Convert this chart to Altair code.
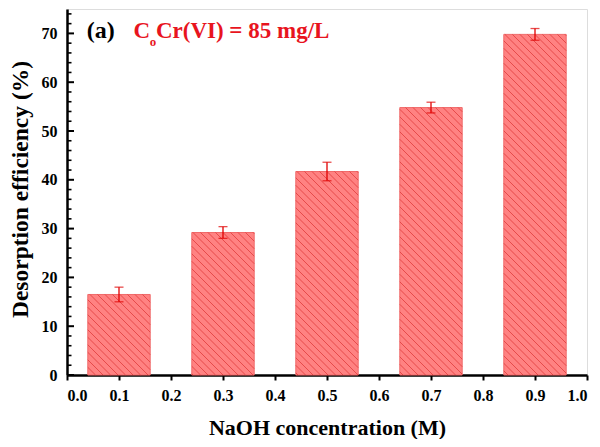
import altair as alt
import pandas as pd
import numpy as np

# ---- data ----
conc = [0.1, 0.3, 0.5, 0.7, 0.9]
eff = [16.5, 29.2, 41.7, 54.8, 69.8]
err = [1.5, 1.2, 1.9, 1.1, 1.2]
x_ticks = [0.0, 0.1, 0.2, 0.3, 0.4, 0.5, 0.6, 0.7, 0.8, 0.9, 1.0]
y_ticks = [0, 10, 20, 30, 40, 50, 60, 70]
y_minor = [v for v in range(2, 75, 2) if v % 10 != 0]

W, H = 520, 366
XMAX, YMAX = 1.0, 75.0
HALF = 0.06  # half bar width in data units

df = pd.DataFrame({"conc": conc, "eff": eff, "err": err})

# ---- hatch segments ("\\" pattern) derived from the bar values ----
spacing = 7.5
segs = []
for i, (c, v) in enumerate(zip(conc, eff)):
    px0, px1 = (c - HALF) / XMAX * W, (c + HALF) / XMAX * W
    yt, yb = (YMAX - v) / YMAX * H, H
    kmin = np.floor((yt - px1) / spacing) * spacing
    k = kmin
    while k <= yb - px0:
        s = max(px0, yt - k)
        e = min(px1, yb - k)
        if e - s > 0.5:
            segs.append({
                "x": s / W * XMAX, "y": YMAX - (s + k) / H * YMAX,
                "x2": e / W * XMAX, "y2": YMAX - (e + k) / H * YMAX,
            })
        k += spacing
hatch_df = pd.DataFrame(segs)

FONT = "Liberation Serif"
xs = alt.Scale(domain=[0, XMAX], nice=False, zero=False)
ys = alt.Scale(domain=[0, YMAX], nice=False)

base = alt.Chart(df)

bars = base.transform_calculate(
    x0=f"datum.conc - {HALF}", x1=f"datum.conc + {HALF}", zero="0"
).mark_rect(fill="#FF8282", stroke="#F06A6A", strokeWidth=1).encode(
    x=alt.X("x0:Q", scale=xs, axis=alt.Axis(
        values=x_ticks, format=".1f", title="NaOH concentration (M)",
        tickSize=5, tickWidth=2, tickColor="black", labelPadding=7,
        domainColor="black", domainWidth=2.5,
        labelFont=FONT, titleFont=FONT, labelColor="black", titleColor="black",
        titleY=59, titleBaseline="alphabetic", titleFontSize=22,
        labelFontSize=16, labelFontWeight="bold", titleFontWeight="bold",
        grid=False)),
    x2="x1:Q",
    y=alt.Y("zero:Q", scale=ys, axis=alt.Axis(
        values=y_ticks, title="Desorption efficiency (%)",
        tickSize=0, labelPadding=10, domainColor="black", domainWidth=2.5,
        labelFont=FONT, titleFont=FONT, labelColor="black", titleColor="black",
        titleX=-47, titleY=180, titleAlign="center", titleBaseline="middle",
        titleFontSize=23.5, labelFontSize=16, labelFontWeight="bold",
        titleFontWeight="bold", grid=False)),
    y2="eff:Q",
)

hatch = alt.Chart(hatch_df).mark_rule(color="#DC3434", strokeWidth=0.9, opacity=0.8).encode(
    x=alt.X("x:Q", scale=xs), y=alt.Y("y:Q", scale=ys),
    x2="x2:Q", y2="y2:Q",
)

err_rule = base.transform_calculate(
    lo="datum.eff - datum.err", hi="datum.eff + datum.err"
).mark_rule(color="#E00000", strokeWidth=1.3).encode(
    x=alt.X("conc:Q", scale=xs), y=alt.Y("lo:Q", scale=ys), y2="hi:Q"
)
err_cap_hi = base.transform_calculate(
    hi="datum.eff + datum.err"
).mark_tick(color="#E00000", orient="horizontal", size=9, thickness=1.3).encode(
    x=alt.X("conc:Q", scale=xs), y=alt.Y("hi:Q", scale=ys)
)
err_cap_lo = base.transform_calculate(
    lo="datum.eff - datum.err"
).mark_tick(color="#E00000", orient="horizontal", size=9, thickness=1.3).encode(
    x=alt.X("conc:Q", scale=xs), y=alt.Y("lo:Q", scale=ys)
)

major_ticks = alt.Chart(pd.DataFrame({"t": y_ticks})).mark_rule(
    color="black", strokeWidth=2).encode(
    y=alt.Y("t:Q", scale=ys), x=alt.value(0), x2=alt.value(7))
minor_ticks = alt.Chart(pd.DataFrame({"t": y_minor})).mark_rule(
    color="black", strokeWidth=1.6).encode(
    y=alt.Y("t:Q", scale=ys), x=alt.value(0), x2=alt.value(4.5))

label_a = alt.Chart().mark_text(
    text="(a)", font=FONT, fontSize=24, fontWeight="bold", color="black",
    align="left", baseline="alphabetic").encode(
    x=alt.datum(0.038, scale=xs), y=alt.datum(69.1, scale=ys))
label_c = alt.Chart().mark_text(
    text="C", font=FONT, fontSize=23, fontWeight="bold", color="#E8141E",
    align="left", baseline="alphabetic").encode(
    x=alt.datum(0.128, scale=xs), y=alt.datum(69.0, scale=ys))
label_o = alt.Chart().mark_text(
    text="o", font=FONT, fontSize=13, fontWeight="bold", color="#E8141E",
    align="left", baseline="alphabetic").encode(
    x=alt.datum(0.159, scale=xs), y=alt.datum(67.4, scale=ys))
label_rest = alt.Chart().mark_text(
    text="Cr(VI) = 85 mg/L", font=FONT, fontSize=23, fontWeight="bold",
    color="#E8141E", align="left", baseline="alphabetic").encode(
    x=alt.datum(0.171, scale=xs), y=alt.datum(69.0, scale=ys))

chart = alt.layer(
    bars, hatch, err_rule, err_cap_hi, err_cap_lo, major_ticks, minor_ticks,
    label_a, label_c, label_o, label_rest,
).properties(
    width=W, height=H,
    autosize=alt.AutoSizeParams(type="none"),
    padding={"left": 59, "top": 1, "right": 4, "bottom": 64},
).configure_view(
    stroke="black", strokeWidth=2
).configure_axis(
    labelFont=FONT, titleFont=FONT, labelColor="black", titleColor="black"
).configure(background="white")

chart.save("out.html", embed_options={"renderer": "svg", "actions": False})
